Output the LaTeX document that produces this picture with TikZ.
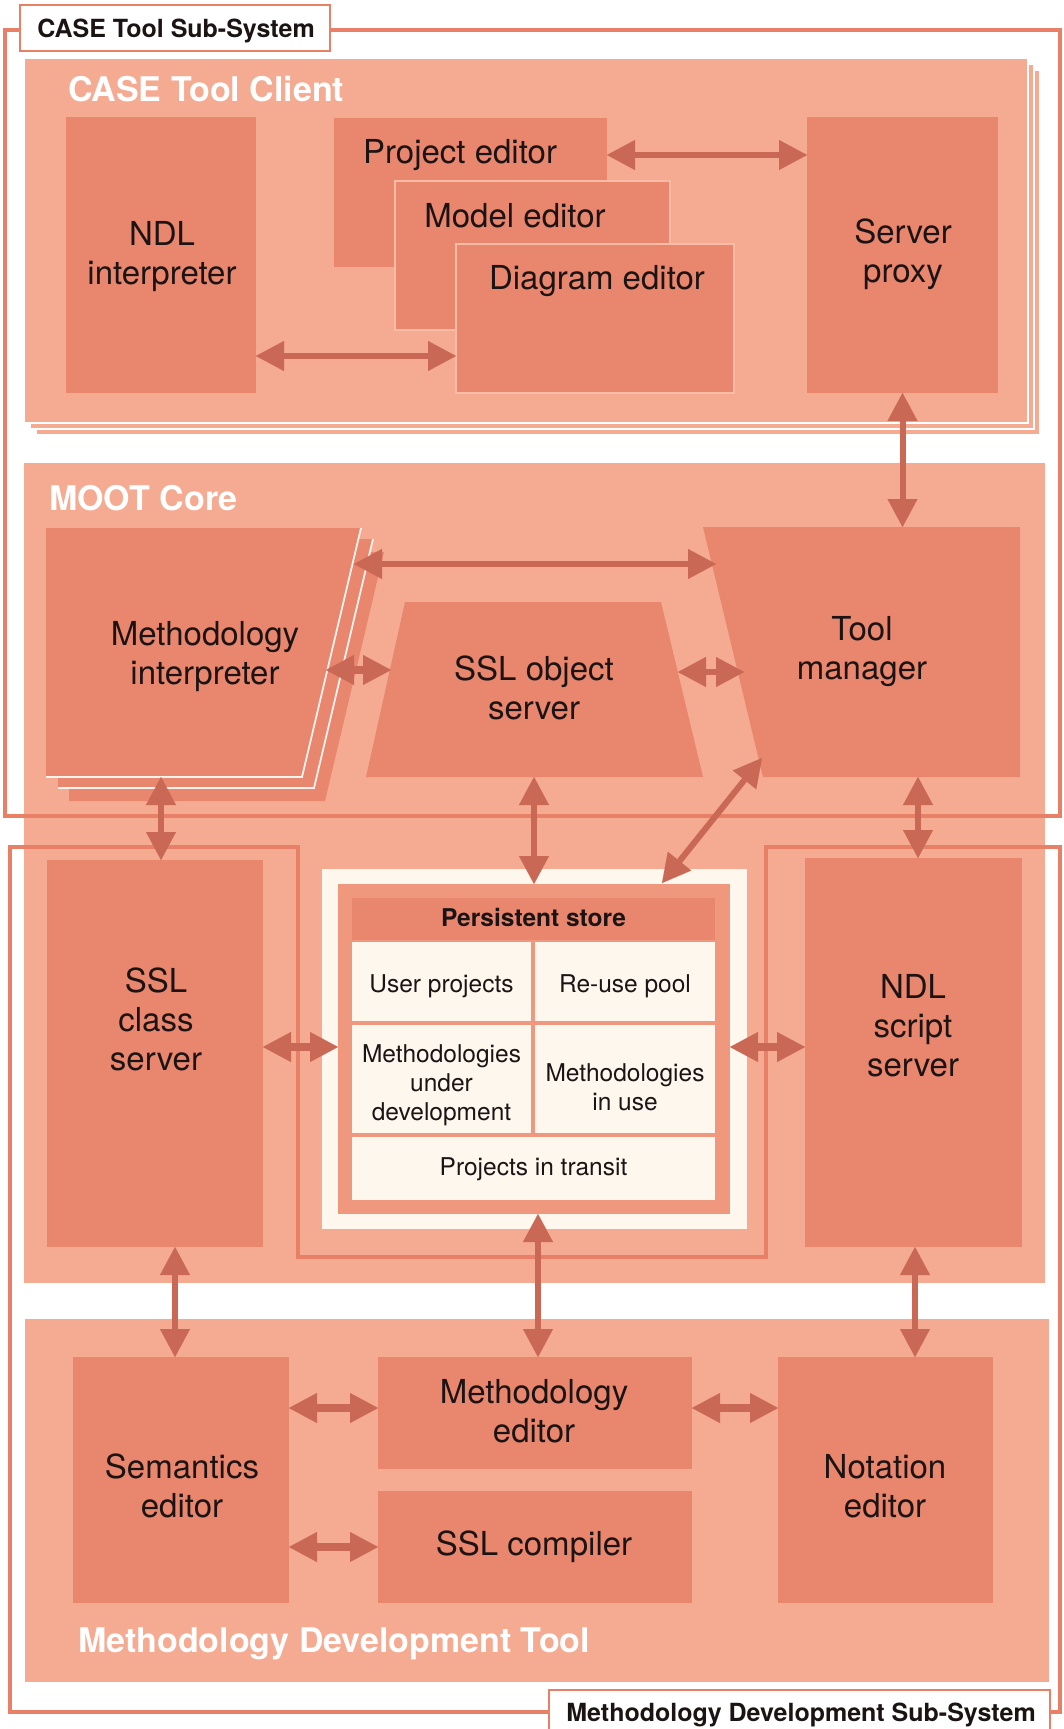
\documentclass[tikz,border=0pt]{standalone}
\usepackage{fontspec}
\setmainfont{TeX Gyre Heros}
\usetikzlibrary{arrows.meta}
\definecolor{panelc}{RGB}{245,170,146}
\definecolor{boxc}{RGB}{233,134,110}
\definecolor{arrowc}{RGB}{201,104,84}
\definecolor{framec}{RGB}{232,128,104}
\definecolor{creamc}{RGB}{253,247,238}
\definecolor{bandc}{RGB}{240,152,126}
\definecolor{seamc}{RGB}{248,188,166}
\definecolor{inkc}{RGB}{28,20,20}
\begin{document}
\begin{tikzpicture}[x=1pt, y=-1pt,
  panel/.style={fill=panelc, draw=white, line width=2.5pt, inner sep=0pt, outer sep=0pt},
  plate/.style={fill=panelc, draw=none, inner sep=0pt, outer sep=0pt},
  box/.style={fill=boxc, draw=none, inner sep=0pt, outer sep=0pt},
  sheet/.style={box, draw=seamc, line width=1.5pt},
  cell/.style={fill=creamc, draw=none, inner sep=0pt, outer sep=0pt},
  celltext/.style={text=inkc, align=center, inner sep=0pt, font=\fontsize{24.5}{29}\selectfont},
  lbl/.style={text=inkc, font=\fontsize{33}{39}\selectfont, align=center, inner sep=0pt},
  heading/.style={text=white, font=\bfseries\fontsize{34}{40}\selectfont, anchor=base west, inner sep=0pt},
  tag/.style={fill=white, draw=framec, line width=2.5pt, inner sep=0pt},
  tagtext/.style={text=inkc, inner sep=0pt, font=\bfseries\fontsize{25}{28}\selectfont},
  frame/.style={draw=framec, line width=4.5pt},
  edgeline/.style={draw=white!85!panelc, line width=1.8pt},
  link/.style={draw=arrowc, line width=6pt,
    {Triangle[length=28pt,width=30pt,line width=0.1pt]}-{Triangle[length=28pt,width=30pt,line width=0.1pt]}},
  fatlink/.style={link, line width=8pt},
]
\useasboundingbox[fill=white] (0,0) rectangle (1063,1729);

% ---------- panels ----------
\node[panel, minimum width=1004pt, minimum height=365pt] (client2) at (538,252.5) {};
\node[panel, minimum width=1004pt, minimum height=365pt] (client1) at (532,246.5) {};
\node[panel, minimum width=1004pt, minimum height=365pt] (client) at (526,240.5) {};
\node[plate, minimum width=1021pt, minimum height=820pt] (core) at (534.5,873) {};
\node[plate, minimum width=1024pt, minimum height=363pt] (mdt) at (537,1500.5) {};

% ---------- sub-system frames ----------
\draw[frame] (5,30) rectangle (1060,816);
\draw[frame] (10,847) -- (298,847) -- (298,1257) -- (766,1257) -- (766,847)
  -- (1060,847) -- (1060,1712) -- (10,1712) -- cycle;
\node[tag, minimum width=310pt, minimum height=46pt] (cts) at (175,28) {};
\node[tagtext] (ctsT) at (176,30.5) {CASE Tool Sub-System};
\node[tag, minimum width=501pt, minimum height=46pt] (mds) at (799.5,1713) {};
\node[tagtext] (mdsT) at (801,1715) {Methodology Development Sub-System};

% ---------- CASE Tool Client ----------
\node[heading] (clientT) at (68,101) {CASE Tool Client};
\node[box, minimum width=190pt, minimum height=276pt] (ndl) at (161,255) {};
\node[lbl] (ndlT) at (162,257) {NDL\\interpreter};
\node[box, minimum width=273pt, minimum height=149pt] (pe) at (470.5,192.5) {};
\node[lbl] (peT) at (460,155) {Project editor};
\node[sheet, minimum width=275pt, minimum height=149pt] (me) at (532.5,255.5) {};
\node[lbl] (meT) at (515,216) {Model editor};
\node[sheet, minimum width=278pt, minimum height=149pt] (de) at (595,318.5) {};
\node[lbl] (deT) at (597,281) {Diagram editor};
\node[box, minimum width=191pt, minimum height=276pt] (sp) at (902.5,255) {};
\node[lbl] (spT) at (903,254) {Server\\proxy};

% ---------- MOOT Core ----------
\node[heading] (coreT) at (49,510) {MOOT Core};
% methodology interpreter, stacked
\fill[boxc] (69,552) -- (384,552) -- (325,801) -- (69,801) -- cycle;
\fill[boxc] (58,539) -- (373,539) -- (314,788) -- (58,788) -- cycle;
\draw[edgeline] (373,539) -- (314,788) -- (58,788);
\fill[boxc] (46,528) -- (361,528) -- (302,777) -- (46,777) -- cycle;
\draw[edgeline] (361,528) -- (302,777) -- (46,777);
\node[lbl] (mi) at (205,657) {Methodology\\interpreter};
% SSL object server
\fill[boxc] (405,602) -- (661,602) -- (703,777) -- (366,777) -- cycle;
\node[lbl] (sos) at (534,688) {SSL object\\server};
% tool manager
\fill[boxc] (703,527) -- (1020,527) -- (1020,777) -- (763,777) -- cycle;
\node[lbl] (tm) at (862,652) {Tool\\manager};

\node[box, minimum width=216pt, minimum height=387pt] (scs) at (155,1053.5) {};
\node[lbl] (scsT) at (156,1019) {SSL\\class\\server};
\node[box, minimum width=217pt, minimum height=389pt] (nss) at (913.5,1052.5) {};
\node[lbl] (nssT) at (913,1026) {NDL\\script\\server};

% persistent store
\node[box, fill=creamc, minimum width=425pt, minimum height=360pt] (pscream) at (534.5,1049) {};
\node[box, fill=bandc, minimum width=392pt, minimum height=330pt] (psband) at (534,1049) {};
\node[box, minimum width=363pt, minimum height=42pt] (pshead) at (533.5,919) {};
\node[celltext, font=\bfseries\fontsize{24.5}{28}\selectfont] (psheadT) at (533.5,917) {Persistent store};
\node[cell, minimum width=179pt, minimum height=79pt] (c11) at (441.5,981.5) {};
\node[cell, minimum width=180pt, minimum height=79pt] (c12) at (625,981.5) {};
\node[cell, minimum width=179pt, minimum height=108pt] (c21) at (441.5,1079) {};
\node[cell, minimum width=180pt, minimum height=108pt] (c22) at (625,1079) {};
\node[cell, minimum width=363pt, minimum height=63pt] (c3) at (533.5,1168.5) {};
\node[celltext] (c11T) at (441.5,986) {User projects};
\node[celltext] (c12T) at (625,986) {Re-use pool};
\node[celltext] (c21T) at (441.5,1085.5) {Methodologies\\under\\development};
\node[celltext] (c22T) at (625,1087) {Methodologies\\in use};
\node[celltext] (c3T) at (533.5,1169.5) {Projects in transit};

% ---------- Methodology Development Tool ----------
\node[heading] (mdtT) at (78,1652) {Methodology Development Tool};
\node[box, minimum width=216pt, minimum height=246pt] (se) at (181,1480) {};
\node[lbl] (seT) at (182,1486) {Semantics\\editor};
\node[box, minimum width=314pt, minimum height=112pt] (mde) at (535,1413) {};
\node[lbl] (mdeT) at (534,1411) {Methodology\\editor};
\node[box, minimum width=314pt, minimum height=112pt] (sslc) at (535,1547) {};
\node[lbl] (sslcT) at (534,1547) {SSL compiler};
\node[box, minimum width=215pt, minimum height=246pt] (ne) at (885.5,1480) {};
\node[lbl] (neT) at (885,1486) {Notation\\editor};

% ---------- connector end points on slanted outlines ----------
\coordinate (mi-e1) at (354,564);
\coordinate (tm-w1) at (716,564);
\coordinate (mi-e2) at (326,670);
\coordinate (sos-w) at (391,670);
\coordinate (sos-e) at (678,672);
\coordinate (tm-w2) at (744,672);
\coordinate (mi-s) at (161,777);
\coordinate (sos-s) at (534,777);
\coordinate (tm-sw) at (762,758);
\coordinate (tm-s) at (918,777);
\coordinate (tm-top) at (903,527);
\coordinate (ps-ne) at (662,883);

% ---------- connectors ----------
\draw[link] ([yshift=37.5pt]pe.east) -- ([yshift=37.5pt]pe.east -| sp.west);
\draw[link] ([yshift=-101pt]ndl.east) -- ([yshift=-101pt]ndl.east -| de.west);
\draw[link] (sp.south) -- (sp.south |- tm-top);
\draw[link] (mi-e1) -- (tm-w1);
\draw[fatlink] (mi-e2) -- (sos-w);
\draw[link] (sos-e) -- (tm-w2);
\draw[link] (mi-s) -- (mi-s |- scs.north);
\draw[link] (sos-s) -- (sos-s |- psband.north);
\draw[link] (tm-sw) -- (ps-ne);
\draw[link] (tm-s) -- (tm-s |- nss.north);
\draw[fatlink] ([yshift=6.5pt]scs.east) -- ([yshift=6.5pt]scs.east -| psband.west);
\draw[fatlink] ([yshift=5.5pt]nss.west) -- ([yshift=5.5pt]nss.west -| psband.east);
\draw[link] ([xshift=4pt]psband.south) -- ([xshift=4pt]psband.south |- mde.north);
\draw[link] ([xshift=-6pt]se.north) -- ([xshift=-6pt]se.north |- scs.south);
\draw[link] ([xshift=1.5pt]nss.south) -- ([xshift=1.5pt]nss.south |- ne.north);
\draw[fatlink] ([yshift=72pt]se.east) -- ([yshift=72pt]se.east -| mde.west);
\draw[fatlink] (sslc.west) -- (sslc.west -| se.east);
\draw[fatlink] ([yshift=5pt]mde.east) -- ([yshift=5pt]mde.east -| ne.west);
\end{tikzpicture}
\end{document}
